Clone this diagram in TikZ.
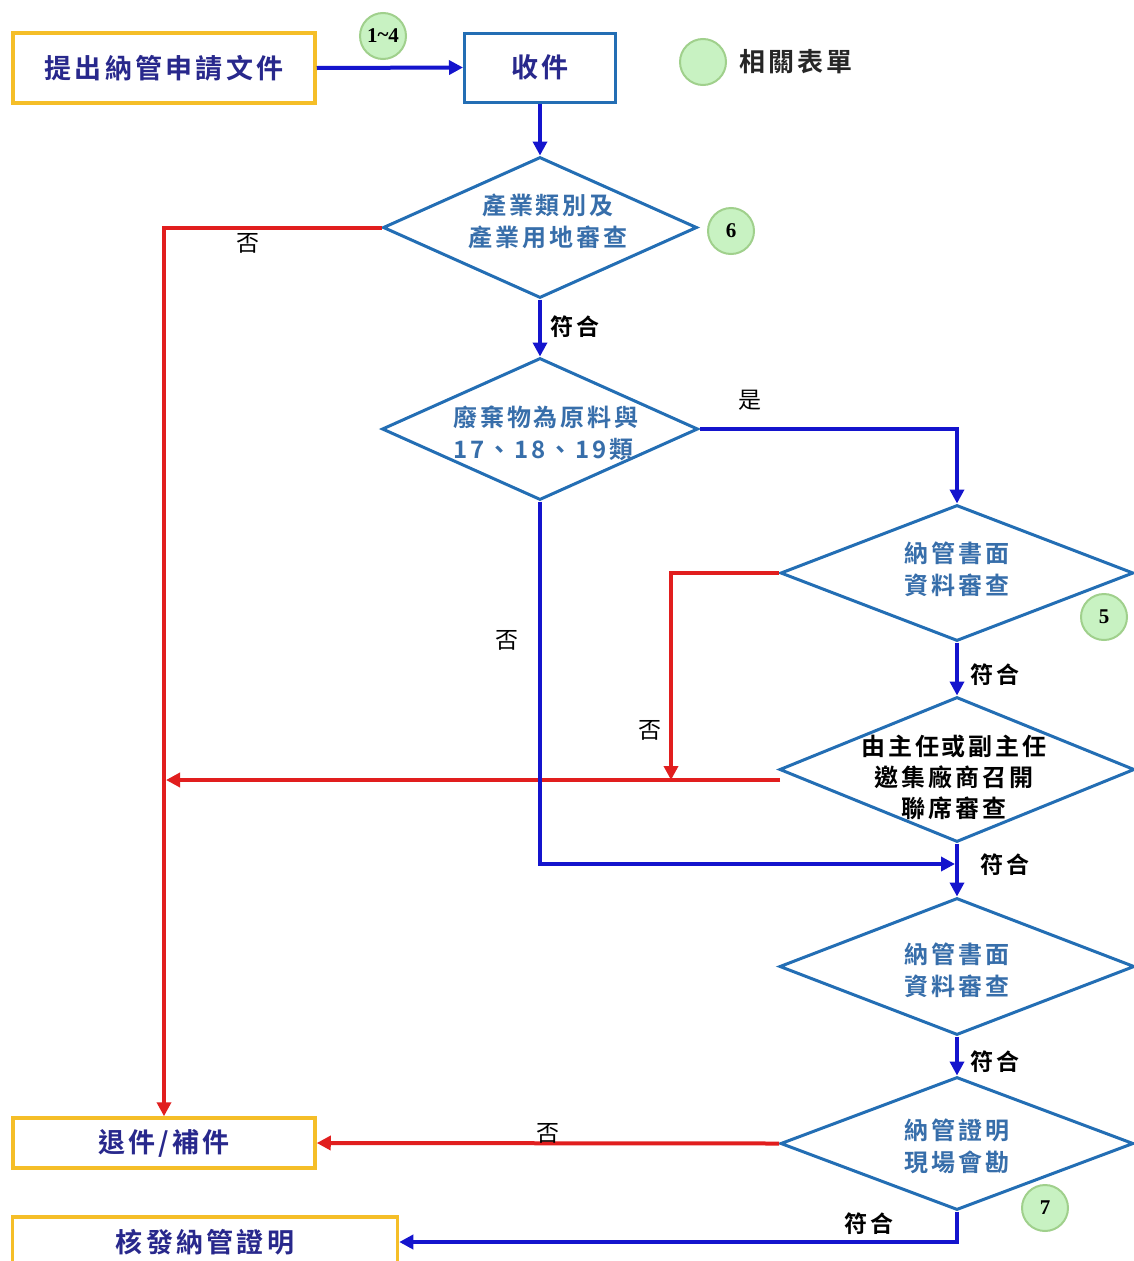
\documentclass[tikz,border=0pt]{standalone}
\usepackage{fontspec}
\setmainfont{Noto Sans CJK TC}[BoldFont={Noto Sans CJK TC Bold},LetterSpace=12]
\newfontfamily\numfont{Liberation Serif}
\usetikzlibrary{arrows.meta,shapes.geometric}
\definecolor{arrblue}{RGB}{20,20,205}
\definecolor{arrred}{RGB}{225,30,30}
\definecolor{boxorange}{RGB}{245,190,40}
\definecolor{diablue}{RGB}{35,110,180}
\definecolor{diatext}{RGB}{55,110,170}
\definecolor{boxtext}{RGB}{40,40,140}
\definecolor{circfill}{RGB}{200,242,194}
\definecolor{circline}{RGB}{160,208,140}
\tikzset{
  obox/.style={draw=boxorange, line width=3.5pt, fill=white, inner sep=0pt, text=boxtext, font=\fontsize{27}{32}\selectfont\bfseries},
  bbox/.style={draw=diablue, line width=3pt, fill=white, inner sep=0pt, text=boxtext, font=\fontsize{27}{32}\selectfont\bfseries},
  dia/.style={diamond, draw=diablue, line width=3pt, fill=white, inner sep=0pt},
  dtext/.style={text=diatext, align=center, font=\fontsize{24}{32}\selectfont\bfseries},
  formc/.style={circle, draw=circline, line width=2pt, fill=circfill, minimum size=46pt, inner sep=0pt, font=\numfont\fontsize{21}{24}\selectfont\bfseries},
  barrow/.style={draw=arrblue, line width=4pt, -{Triangle[length=14pt,width=14pt]}},
  bline/.style={draw=arrblue, line width=4pt},
  rarrow/.style={draw=arrred, line width=4pt, -{Triangle[length=14pt,width=14pt]}},
  rline/.style={draw=arrred, line width=4pt},
  lbl/.style={text=black, font=\fontsize{23}{28}\selectfont},
  lblb/.style={text=black, font=\fontsize{23}{28}\selectfont\bfseries},
}
\begin{document}
\begin{tikzpicture}[x=1pt,y=-1pt]
\useasboundingbox (0,0) rectangle (1133,1261);
\fill[white] (0,0) rectangle (1133,1261);

% boxes
\node[obox, minimum width=302pt, minimum height=70pt] (a) at (164,68) {提出納管申請文件};
\node[bbox, minimum width=151pt, minimum height=69pt] (b) at (540,67.5) {收件};
\node[obox, minimum width=302pt, minimum height=50pt] (r) at (164,1143) {退件/補件};
\node[obox, minimum width=385pt, minimum height=50pt] (k) at (205,1242) {核發納管證明};

% legend
\node[formc] (leg) at (703,62) {};
\node[anchor=west, text=black!85, font=\fontsize{26}{30}\selectfont\bfseries] (legt) at (736,62) {相關表單};

% diamonds
\node[dia, minimum width=314pt, minimum height=141pt] (d1) at (540,227.5) {};
\node[dtext] (d1t) at (548,221) {產業類別及\\產業用地審查};
\node[dia, minimum width=316pt, minimum height=142pt] (d2) at (540,429) {};
\node[dtext, align=left] (d2t) at (546,433) {廢棄物為原料與\\17、18、19類};
\node[dia, minimum width=353pt, minimum height=136pt] (d3) at (957,573) {};
\node[dtext] (d3t) at (957,569) {納管書面\\資料審查};
\node[dia, minimum width=355pt, minimum height=145pt] (d4) at (957,769.5) {};
\node[dtext, text=black, font=\fontsize{24}{31}\selectfont\bfseries] (d4t) at (954,777) {由主任或副主任\\邀集廠商召開\\聯席審查};
\node[dia, minimum width=355pt, minimum height=137pt] (d5) at (957,966.5) {};
\node[dtext] (d5t) at (957,970) {納管書面\\資料審查};
\node[dia, minimum width=353pt, minimum height=133pt] (d6) at (957,1143.5) {};
\node[dtext] (d6t) at (957,1146) {納管證明\\現場會勘};

% form circles
\node[formc] (c14) at (383,36) {1\raisebox{1pt}{\char`~}4};
\node[formc] (c6) at (731,231) {6};
\node[formc] (c5) at (1104,617) {5};
\node[formc] (c7) at (1045,1208) {7};

% junction coordinates
\coordinate (j3) at (671,780);
\coordinate (j4w) at (780,780);
\coordinate (j4e) at (166,780);
\coordinate (j5) at (955,864);

% connectors
\draw[barrow] (a.east) -- (b.west);
\draw[barrow] (b.south) -- (d1.north);
\draw[barrow] (d1.south) -- (d2.north);
\draw[barrow] (d2.east) -| (d3.north);
\draw[rarrow] (d1.west) -| (r.north);
\draw[rarrow] (d3.west) -| (j3);
\draw[barrow] (d3.south) -- (d4.north);
\draw[rarrow] (j4w) -- (j4e);
\draw[barrow] (d2.south) |- (j5);
\draw[barrow] (d4.south) -- (d5.north);
\draw[barrow] (d5.south) -- (d6.north);
\draw[rarrow] (d6.west) -- (r.east);
\draw[barrow] (d6.south) |- (k.east);

% labels
\node[lbl] (l1) at (248,243) {否};
\node[lblb] (l2) at (575,327) {符合};
\node[lbl] (l3) at (750,400) {是};
\node[lbl] (l4) at (507,640) {否};
\node[lbl] (l5) at (650,730) {否};
\node[lblb] (l6) at (995,675) {符合};
\node[lblb] (l7) at (1005,865) {符合};
\node[lblb] (l8) at (995,1062) {符合};
\node[lbl] (l9) at (548,1133) {否};
\node[lblb] (l10) at (869,1224) {符合};
\end{tikzpicture}
\end{document}
